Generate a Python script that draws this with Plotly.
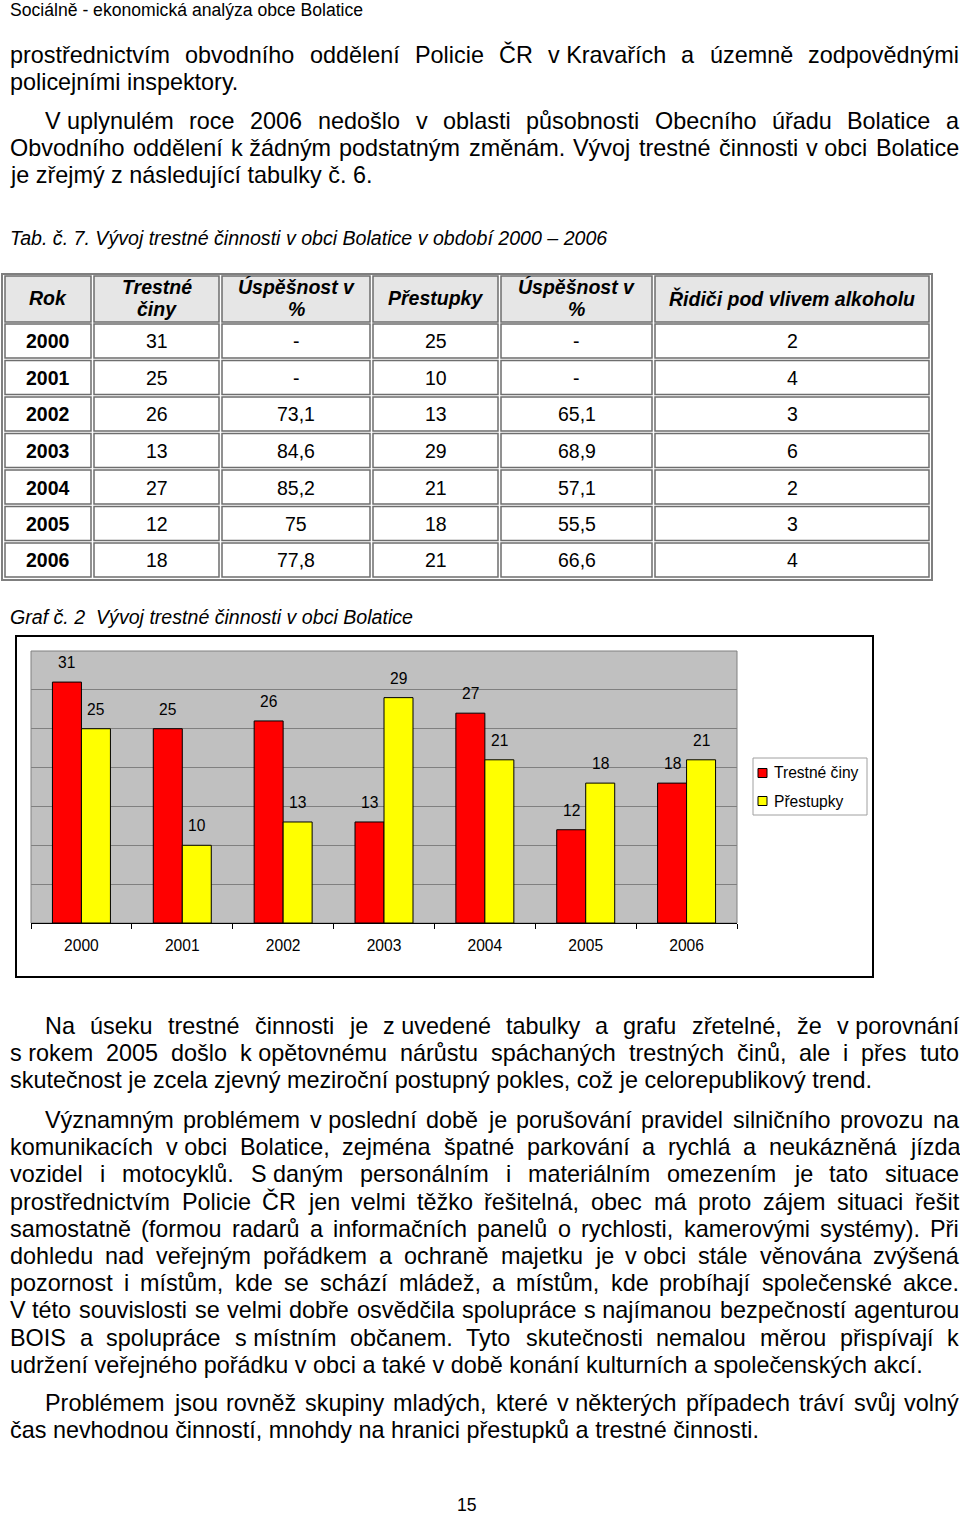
import plotly.graph_objects as go

W, H = 960, 1516
FONT = "Liberation Sans, Arial, sans-serif"

# data
years = ["2000", "2001", "2002", "2003", "2004", "2005", "2006"]
trestne_ciny = [31, 25, 26, 13, 27, 12, 18]
uspesnost_tc = ["-", "-", "73,1", "84,6", "85,2", "75", "77,8"]
prestupky = [25, 10, 13, 29, 21, 18, 21]
uspesnost_pr = ["-", "-", "65,1", "68,9", "57,1", "55,5", "66,6"]
ridici_alkohol = [2, 4, 3, 6, 2, 3, 4]

table_header = ["Rok", "Trestné\nčiny", "Úspěšnost v\n%", "Přestupky", "Úspěšnost v\n%",
                "Řidiči pod vlivem alkoholu"]
series_names = ["Trestné činy", "Přestupky"]

page_header = "Sociálně - ekonomická analýza obce Bolatice"
tab_caption = "Tab. č. 7. Vývoj trestné činnosti v obci Bolatice v období 2000 – 2006"
graf_caption = "Graf č. 2\u00a0 Vývoj trestné činnosti v obci Bolatice"
page_number = "15"

NB = "\u00a0"
para_a = [
    f"prostřednictvím obvodního oddělení Policie ČR v{NB}Kravařích a územně zodpovědnými",
    "policejními inspektory.",
]
para_b = [
    f"V{NB}uplynulém roce 2006 nedošlo v oblasti působnosti Obecního úřadu Bolatice a",
    f"Obvodního oddělení k{NB}žádným podstatným změnám. Vývoj trestné činnosti v{NB}obci Bolatice",
    "je zřejmý z následující tabulky č. 6.",
]
para_c = [
    f"Na úseku trestné činnosti je z{NB}uvedené tabulky a grafu zřetelné, že v{NB}porovnání",
    f"s{NB}rokem 2005 došlo k{NB}opětovnému nárůstu spáchaných trestných činů, ale i přes tuto",
    "skutečnost je zcela zjevný meziroční postupný pokles, což je celorepublikový trend.",
]
para_d = [
    f"Významným problémem v{NB}poslední době je porušování pravidel silničního provozu na",
    f"komunikacích v{NB}obci Bolatice, zejména špatné parkování a rychlá a neukázněná jízda",
    f"vozidel i motocyklů. S{NB}daným personálním i materiálním omezením je tato situace",
    "prostřednictvím Policie ČR jen velmi těžko řešitelná, obec má proto zájem situaci řešit",
    "samostatně (formou radarů a informačních panelů o rychlosti, kamerovými systémy). Při",
    f"dohledu nad veřejným pořádkem a ochraně majetku je v{NB}obci stále věnována zvýšená",
    "pozornost i místům, kde se schází mládež, a místům, kde probíhají společenské akce.",
    f"V{NB}této souvislosti se velmi dobře osvědčila spolupráce s{NB}najímanou bezpečností agenturou",
    f"BOIS a spolupráce s{NB}místním občanem. Tyto skutečnosti nemalou měrou přispívají k",
    "udržení veřejného pořádku v obci a také v době konání kulturních a společenských akcí.",
]
para_e = [
    f"Problémem jsou rovněž skupiny mladých, které v{NB}některých případech tráví svůj volný",
    "čas nevhodnou činností, mnohdy na hranici přestupků a trestné činnosti.",
]

RED = "#ff0000"
YELLOW = "#ffff00"

# arial advance widths (1/1000 em)
ARIAL = {" ": 278, NB: 278, "(": 333, ")": 333, ",": 278, "-": 333, ".": 278, ":": 278, "–": 556}
for ch in "0123456789":
    ARIAL[ch] = 556
ARIAL.update(dict(zip("abcdefghijklmnopqrstuvwxyz",
                      [556, 556, 500, 556, 556, 278, 556, 556, 222, 222, 500, 222, 833,
                       556, 556, 556, 556, 333, 500, 278, 556, 500, 722, 500, 500, 500])))
ARIAL.update(dict(zip("ABCDEFGHIJKLMNOPQRSTUVWXYZ",
                      [667, 667, 722, 722, 667, 611, 778, 722, 278, 500, 667, 556, 833,
                       722, 778, 667, 778, 722, 667, 611, 722, 667, 944, 667, 667, 611])))
ARIAL.update({"á": 556, "č": 500, "é": 556, "ě": 556, "í": 278, "ň": 556, "ó": 556, "ř": 333,
              "š": 500, "ú": 556, "ů": 556, "ý": 500, "ž": 500,
              "Č": 722, "Ř": 722, "Š": 667, "Ú": 722, "Ž": 611})


def text_width(s, size):
    return sum(ARIAL.get(ch, 556) for ch in s) * size / 1000


def px(x):
    return x / W


def py(y):
    return 1 - y / H


annotations = []
shapes = []


def add_text(x, y, text, size, anchor="left", weight="normal", style="normal"):
    annotations.append(dict(
        x=px(x), y=py(y), xref="paper", yref="paper", text=text, showarrow=False,
        xanchor=anchor, yanchor="middle", borderpad=0,
        font=dict(family=FONT, size=size, color="black", weight=weight, style=style)))


def add_rect(x0, y0, x1, y1, color, width, fill=None):
    shapes.append(dict(type="rect", xref="paper", yref="paper",
                       x0=px(x0), y0=py(y0), x1=px(x1), y1=py(y1),
                       line=dict(color=color, width=width),
                       fillcolor=fill if fill else "rgba(0,0,0,0)", layer="below"))


BODY = 23.4
LEFT, INDENT, RIGHT = 9, 44, 958
LINE_H = 27.2


def add_paragraph(lines, y0, indent):
    for i, line in enumerate(lines):
        left = INDENT if (indent and i == 0) else LEFT
        y = y0 + i * LINE_H
        if i == len(lines) - 1:
            add_text(left, y, line, BODY)
            continue
        words = line.split(" ")
        widths = [text_width(w, BODY) for w in words]
        gap = (RIGHT - left - sum(widths)) / (len(words) - 1)
        x = left
        for w, wd in zip(words, widths):
            add_text(x, y, w, BODY)
            x += wd + gap


add_text(LEFT, 10, page_header, 17.6)
add_paragraph(para_a, 55, False)
add_paragraph(para_b, 121, True)
add_text(LEFT, 238, tab_caption, 19.6, style="italic")
add_text(LEFT, 617, graf_caption, 19.6, style="italic")
add_paragraph(para_c, 1026, True)
add_paragraph(para_d, 1120, True)
add_paragraph(para_e, 1403, True)
add_text(467, 1505, page_number, 17.6, anchor="center")

# table
TCOLS = [(5, 91), (94, 219), (222, 370), (373, 498), (501, 652), (655, 929)]
HEAD_Y = (276, 322)
ROW_TOP, ROW_STEP, ROW_H = 324, 36.5, 34
CELL = 19.5
add_rect(2, 274, 932, 580, "#7f7f7f", 2)
for c, (x0, x1) in enumerate(TCOLS):
    add_rect(x0, HEAD_Y[0], x1, HEAD_Y[1], "#6e6e6e", 1.5, "#e6e6e6")
    parts = table_header[c].split("\n")
    cy = (HEAD_Y[0] + HEAD_Y[1]) / 2
    for k, part in enumerate(parts):
        yy = cy - 1 + (k - (len(parts) - 1) / 2) * 22
        add_text((x0 + x1) / 2, yy, part, CELL, anchor="center", weight="bold", style="italic")
rows = list(zip(years, trestne_ciny, uspesnost_tc, prestupky, uspesnost_pr, ridici_alkohol))
for r, row in enumerate(rows):
    top = ROW_TOP + r * ROW_STEP
    for c, (x0, x1) in enumerate(TCOLS):
        add_rect(x0, top, x1, top + ROW_H, "#6e6e6e", 1.5)
        add_text((x0 + x1) / 2, top + ROW_H / 2 + 0.5, str(row[c]), CELL, anchor="center",
                 weight="bold" if c == 0 else "normal")

# chart
CHART_FONT = 15.6
PLOT_L, PLOT_R, PLOT_T, PLOT_B = 31, 737, 651, 923
BARGAP = 0.425
add_rect(16, 636, 873, 977, "black", 2)

fig = go.Figure()
fig.add_bar(x=years, y=trestne_ciny, name=series_names[0], showlegend=False,
            marker=dict(color=RED, line=dict(color="black", width=1)))
fig.add_bar(x=years, y=prestupky, name=series_names[1], showlegend=False,
            marker=dict(color=YELLOW, line=dict(color="black", width=1)))

half = (1 - BARGAP) / 4
for s, vals in enumerate([trestne_ciny, prestupky]):
    off = -half if s == 0 else half
    for i, v in enumerate(vals):
        annotations.append(dict(x=i + off, y=v, xref="x", yref="y", text=str(v), showarrow=False,
                                yanchor="bottom", yshift=9,
                                font=dict(family=FONT, size=CHART_FONT, color="black")))

# plot area frame
shapes.append(dict(type="rect", xref="paper", yref="paper",
                   x0=px(PLOT_L), x1=px(PLOT_R), y0=py(PLOT_B), y1=py(PLOT_T),
                   line=dict(color="#808080", width=1), layer="below"))

# legend (drawn by hand to match the original box)
LEG = (753, 758, 867, 815)
add_rect(*LEG, "#a0a0a0", 1, "white")
for k, (name, col) in enumerate(zip(series_names, [RED, YELLOW])):
    cy = 773 + k * 28
    shapes.append(dict(type="rect", xref="paper", yref="paper",
                       x0=px(758), x1=px(767), y0=py(cy + 4.5), y1=py(cy - 4.5),
                       line=dict(color="black", width=1), fillcolor=col))
    add_text(773, cy, name, CHART_FONT)

fig.update_layout(
    width=W, height=H, margin=dict(l=0, r=0, t=0, b=0),
    paper_bgcolor="white", plot_bgcolor="#c0c0c0",
    barmode="group", bargap=BARGAP, bargroupgap=0,
    showlegend=False,
    xaxis=dict(domain=[px(PLOT_L), px(PLOT_R)], type="category", tickson="boundaries",
               ticks="outside", ticklen=5, tickcolor="black", showline=True, linecolor="black",
               linewidth=1, showgrid=False, ticklabelstandoff=8,
               tickfont=dict(family=FONT, size=CHART_FONT, color="black")),
    yaxis=dict(domain=[py(PLOT_B), py(PLOT_T)], range=[0, 35], dtick=5, showticklabels=False,
               showgrid=True, gridcolor="#808080", gridwidth=1, zeroline=False, ticks=""),
    annotations=annotations, shapes=shapes,
    font=dict(family=FONT),
)

# the page has no body margin in the original
fig.write_html("out.html", config={"displayModeBar": False},
               post_script="document.body.style.margin='0';document.body.style.overflow='hidden';")
